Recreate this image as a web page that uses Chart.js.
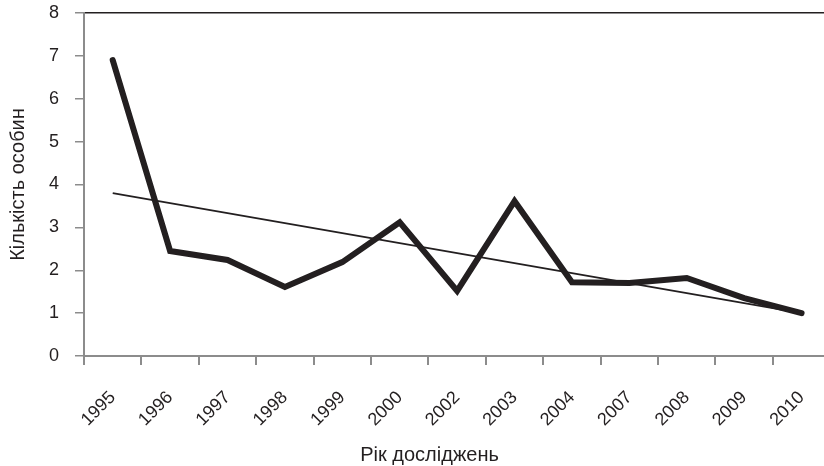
<!DOCTYPE html>
<html>
<head>
<meta charset="utf-8">
<script src="https://cdn.jsdelivr.net/npm/chart.js@4"></script>
<style>
  html, body { margin: 0; padding: 0; background: #fff; overflow: hidden; }
  #wrap { width: 839px; height: 466px; }
</style>
</head>
<body>
<div id="wrap"><canvas id="countChart"></canvas></div>
<script>
const years = ['1995', '1996', '1997', '1998', '1999', '2000', '2002',
  '2003', '2004', '2007', '2008', '2009', '2010'];
const counts = [6.9, 2.45, 2.24, 1.61, 2.19, 3.12, 1.52, 3.61, 1.72, 1.7, 1.82, 1.35, 1.0];
const trend = [3.8, null, null, null, null, null, null, null, null, null, null, null, 1.0];
const yTicks = [0, 1, 2, 3, 4, 5, 6, 7, 8];
const xTitle = 'Рік досліджень';

const axisGray = '#8c8c8c';
const ink = '#231f20';

// x axis title sits a bit left of the plot centre in the original
const xTitlePlugin = {
  id: 'xTitle',
  afterDraw(chart) {
    const { ctx, chartArea } = chart;
    ctx.save();
    ctx.fillStyle = ink;
    ctx.font = '20px "Liberation Sans"';
    ctx.textAlign = 'center';
    ctx.textBaseline = 'middle';
    const x = chartArea.left + (chartArea.right - chartArea.left) * 0.463;
    ctx.fillText(xTitle, x, chart.height - 11);
    ctx.restore();
  },
};

document.addEventListener('DOMContentLoaded', () => {
  const ctx = document.getElementById('countChart').getContext('2d');
  new Chart(ctx, {
    type: 'line',
    data: {
      labels: years,
      datasets: [
        {
          label: 'Кількість особин',
          data: counts,
          borderColor: ink,
          borderWidth: 6,
          borderJoinStyle: 'miter',
          borderCapStyle: 'round',
          pointRadius: 0,
          tension: 0,
        },
        {
          label: 'Тренд',
          data: trend,
          borderColor: ink,
          borderWidth: 1.8,
          pointRadius: 0,
          spanGaps: true,
        },
      ],
    },
    plugins: [xTitlePlugin],
    options: {
      responsive: true,
      maintainAspectRatio: false,
      animation: false,
      layout: { padding: { top: 13, right: 4, left: 0, bottom: 0 } },
      plugins: { legend: { display: false }, tooltip: { enabled: false } },
      scales: {
        x: {
          offset: true,
          grid: {
            offset: true,
            drawOnChartArea: false,
            drawTicks: true,
            tickLength: 9,
            color: axisGray,
            lineWidth: 2,
          },
          border: { color: axisGray, width: 2 },
          ticks: {
            color: ink,
            font: { family: 'Liberation Sans', size: 18 },
            minRotation: 45,
            maxRotation: 45,
            autoSkip: false,
            padding: 22,
          },
          afterFit: (scale) => { scale.height = 110; },
        },
        y: {
          min: 0,
          max: 8,
          afterBuildTicks: (scale) => {
            scale.ticks = yTicks.map((v) => ({ value: v }));
          },
          grid: {
            drawTicks: true,
            tickLength: 9,
            tickColor: axisGray,
            color: (c) => (c.tick && c.tick.value === 8 ? ink : 'rgba(0,0,0,0)'),
            lineWidth: 1.5,
          },
          border: { color: axisGray, width: 2 },
          ticks: {
            color: ink,
            font: { family: 'Liberation Sans', size: 18 },
            padding: 16,
          },
          title: {
            display: true,
            text: 'Кількість особин',
            color: ink,
            font: { family: 'Liberation Sans', size: 20 },
            padding: { top: 6, bottom: 0 },
          },
          afterFit: (scale) => {
            scale.width = 84;
            scale.paddingTop = 0;
            scale.paddingBottom = 0;
          },
        },
      },
    },
  });
});
</script>
</body>
</html>
